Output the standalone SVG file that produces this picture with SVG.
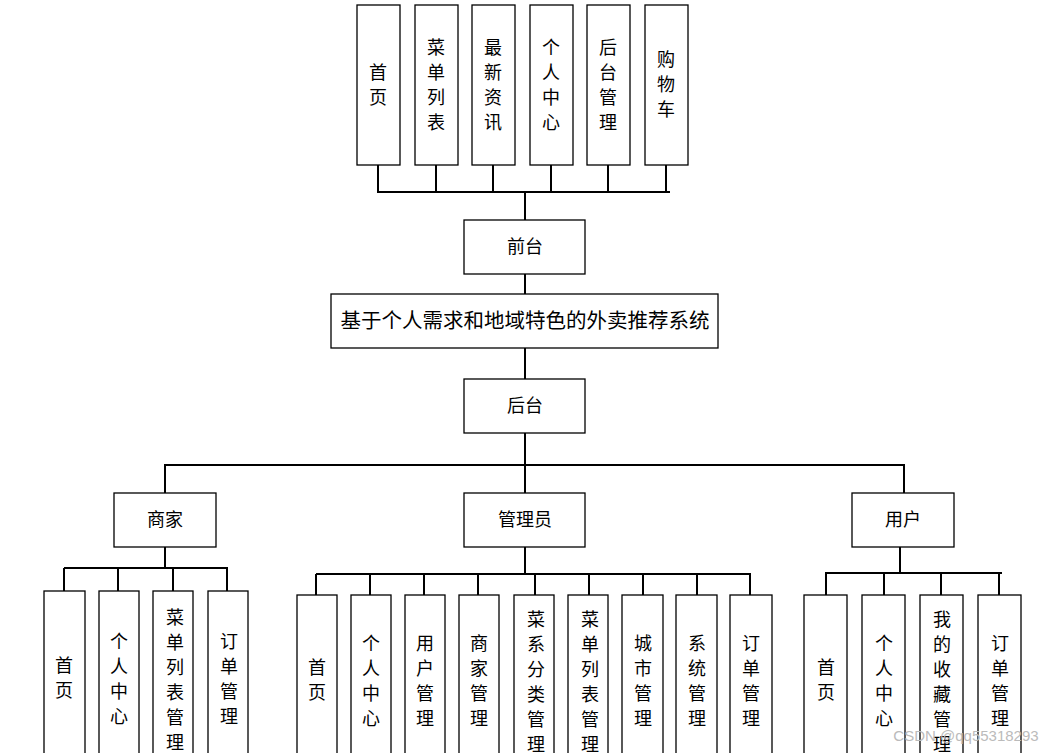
<svg xmlns="http://www.w3.org/2000/svg" width="1054" height="753" viewBox="0 0 1054 753">
<style>
rect{fill:#fff;stroke:#000;stroke-width:1.3}
.c line{stroke:#000;stroke-width:2}
text{font-family:"Noto Sans CJK SC","Liberation Serif",serif;font-size:18px;fill:#000;text-anchor:middle}
</style>
<rect x="0" y="0" width="1054" height="753" style="stroke:none"/>
<g class="c">
<line x1="378" y1="165" x2="378" y2="192"/><line x1="436" y1="165" x2="436" y2="192"/><line x1="493" y1="165" x2="493" y2="192"/><line x1="551" y1="165" x2="551" y2="192"/><line x1="608" y1="165" x2="608" y2="192"/><line x1="666" y1="165" x2="666" y2="192"/>
<line x1="377" y1="192" x2="670" y2="192"/><line x1="525" y1="192" x2="525" y2="220"/>
<line x1="525" y1="274" x2="525" y2="294"/><line x1="525" y1="348" x2="525" y2="379"/>
<line x1="525" y1="433" x2="525" y2="493"/>
<line x1="164" y1="465" x2="905" y2="465"/><line x1="165" y1="465" x2="165" y2="493"/><line x1="904" y1="465" x2="904" y2="493"/>
<line x1="165" y1="547" x2="165" y2="568"/><line x1="64" y1="568" x2="228" y2="568"/>
<line x1="64" y1="568" x2="64" y2="591"/><line x1="118" y1="568" x2="118" y2="591"/><line x1="173" y1="568" x2="173" y2="591"/><line x1="227" y1="568" x2="227" y2="591"/>
<line x1="525" y1="547" x2="525" y2="574"/><line x1="316" y1="574" x2="751" y2="574"/>
<line x1="316" y1="574" x2="316" y2="595"/><line x1="370" y1="574" x2="370" y2="595"/><line x1="424" y1="574" x2="424" y2="595"/><line x1="478" y1="574" x2="478" y2="595"/><line x1="535" y1="574" x2="535" y2="595"/><line x1="589" y1="574" x2="589" y2="595"/><line x1="643" y1="574" x2="643" y2="595"/><line x1="697" y1="574" x2="697" y2="595"/><line x1="750" y1="574" x2="750" y2="595"/>
<line x1="900" y1="547" x2="900" y2="573"/><line x1="825" y1="573" x2="1002" y2="573"/>
<line x1="826" y1="573" x2="826" y2="595"/><line x1="884" y1="573" x2="884" y2="595"/><line x1="941" y1="573" x2="941" y2="595"/><line x1="999" y1="573" x2="999" y2="595"/>
</g>
<g id="t1"><rect x="357" y="5" width="43" height="160"/><text x="378" y="79">首</text><text x="378" y="104">页</text></g>
<g id="t2"><rect x="415" y="5" width="43" height="160"/><text x="436" y="54">菜</text><text x="436" y="79">单</text><text x="436" y="104">列</text><text x="436" y="129">表</text></g>
<g id="t3"><rect x="472" y="5" width="43" height="160"/><text x="493" y="54">最</text><text x="493" y="79">新</text><text x="493" y="104">资</text><text x="493" y="129">讯</text></g>
<g id="t4"><rect x="530" y="5" width="43" height="160"/><text x="551" y="54">个</text><text x="551" y="79">人</text><text x="551" y="104">中</text><text x="551" y="129">心</text></g>
<g id="t5"><rect x="587" y="5" width="43" height="160"/><text x="608" y="54">后</text><text x="608" y="79">台</text><text x="608" y="104">管</text><text x="608" y="129">理</text></g>
<g id="t6"><rect x="645" y="5" width="43" height="160"/><text x="666" y="66">购</text><text x="666" y="91">物</text><text x="666" y="116">车</text></g>
<g id="qiantai"><rect x="464" y="220" width="121" height="54"/><text x="525" y="253">前台</text></g>
<g id="main"><rect x="331" y="294" width="387" height="54"/><text x="525" y="328" style="font-size:20.5px">基于个人需求和地域特色的外卖推荐系统</text></g>
<g id="houtai"><rect x="464" y="379" width="121" height="54"/><text x="525" y="412">后台</text></g>
<g id="shangjia"><rect x="114" y="493" width="102" height="54"/><text x="165" y="526">商家</text></g>
<g id="admin"><rect x="464" y="493" width="121" height="54"/><text x="525" y="526">管理员</text></g>
<g id="user"><rect x="852" y="493" width="102" height="54"/><text x="903" y="526">用户</text></g>
<g id="s1"><rect x="44" y="591" width="41" height="175"/><text x="64" y="672">首</text><text x="64" y="697">页</text></g>
<g id="s2"><rect x="99" y="591" width="40" height="175"/><text x="119" y="648">个</text><text x="119" y="673">人</text><text x="119" y="698">中</text><text x="119" y="723">心</text></g>
<g id="s3"><rect x="153" y="591" width="40" height="175"/><text x="175" y="624">菜</text><text x="175" y="649">单</text><text x="175" y="674">列</text><text x="175" y="699">表</text><text x="175" y="724">管</text><text x="175" y="749">理</text></g>
<g id="s4"><rect x="208" y="591" width="40" height="175"/><text x="229" y="648">订</text><text x="229" y="673">单</text><text x="229" y="698">管</text><text x="229" y="723">理</text></g>
<g id="a1"><rect x="297" y="595" width="40" height="175"/><text x="317" y="674">首</text><text x="317" y="699">页</text></g>
<g id="a2"><rect x="351" y="595" width="40" height="175"/><text x="371" y="650">个</text><text x="371" y="675">人</text><text x="371" y="700">中</text><text x="371" y="725">心</text></g>
<g id="a3"><rect x="405" y="595" width="40" height="175"/><text x="425" y="650">用</text><text x="425" y="675">户</text><text x="425" y="700">管</text><text x="425" y="725">理</text></g>
<g id="a4"><rect x="459" y="595" width="40" height="175"/><text x="479" y="650">商</text><text x="479" y="675">家</text><text x="479" y="700">管</text><text x="479" y="725">理</text></g>
<g id="a5"><rect x="514" y="595" width="40" height="175"/><text x="536" y="626">菜</text><text x="536" y="651">系</text><text x="536" y="676">分</text><text x="536" y="701">类</text><text x="536" y="726">管</text><text x="536" y="751">理</text></g>
<g id="a6"><rect x="568" y="595" width="40" height="175"/><text x="590" y="626">菜</text><text x="590" y="651">单</text><text x="590" y="676">列</text><text x="590" y="701">表</text><text x="590" y="726">管</text><text x="590" y="751">理</text></g>
<g id="a7"><rect x="622" y="595" width="41" height="175"/><text x="643" y="650">城</text><text x="643" y="675">市</text><text x="643" y="700">管</text><text x="643" y="725">理</text></g>
<g id="a8"><rect x="676" y="595" width="41" height="175"/><text x="697" y="650">系</text><text x="697" y="675">统</text><text x="697" y="700">管</text><text x="697" y="725">理</text></g>
<g id="a9"><rect x="730" y="595" width="42" height="175"/><text x="751" y="650">订</text><text x="751" y="675">单</text><text x="751" y="700">管</text><text x="751" y="725">理</text></g>
<g id="u1"><rect x="804" y="595" width="43" height="175"/><text x="826" y="674">首</text><text x="826" y="699">页</text></g>
<g id="u2"><rect x="862" y="595" width="43" height="175"/><text x="884" y="650">个</text><text x="884" y="675">人</text><text x="884" y="700">中</text><text x="884" y="725">心</text></g>
<g id="u3"><rect x="920" y="595" width="43" height="175"/><text x="942" y="626">我</text><text x="942" y="651">的</text><text x="942" y="676">收</text><text x="942" y="701">藏</text><text x="942" y="726">管</text><text x="942" y="751">理</text></g>
<g id="u4"><rect x="978" y="595" width="43" height="175"/><text x="1000" y="650">订</text><text x="1000" y="675">单</text><text x="1000" y="700">管</text><text x="1000" y="725">理</text></g>
<text x="966" y="741" style="font-family:'Liberation Sans',sans-serif;font-size:15px;fill:#bbb">CSDN @qq55318293</text>
</svg>
